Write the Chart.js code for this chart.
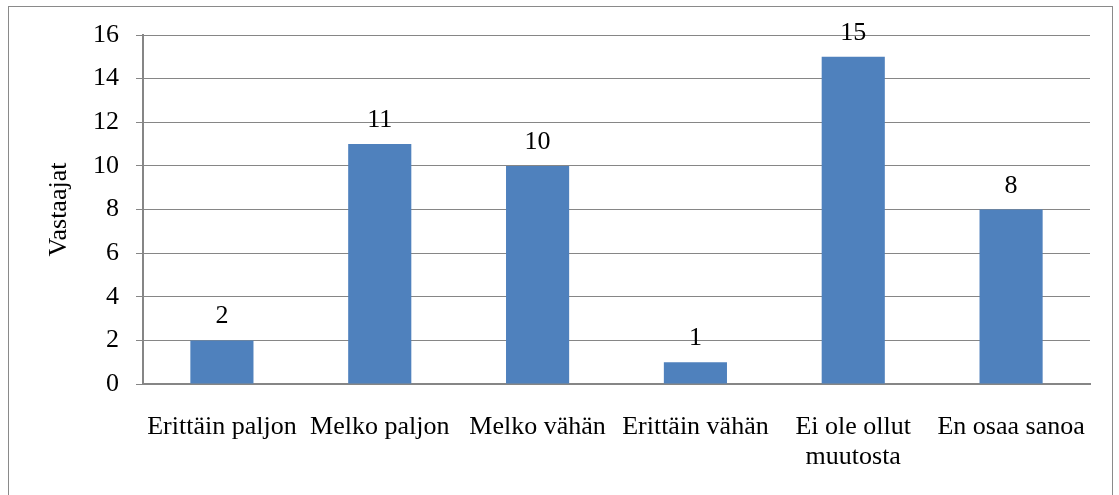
<!DOCTYPE html>
<html>
<head>
<meta charset="utf-8">
<script src="https://cdn.jsdelivr.net/npm/chart.js@4"></script>
<style>
  html, body { margin: 0; padding: 0; background: #ffffff; }
  #wrap { width: 1119px; height: 495px; position: relative; }
</style>
</head>
<body>
<div id="wrap"><canvas id="c" width="1119" height="495"></canvas></div>
<script>
// Survey answers: number of respondents per option
const categories = [
  'Erittäin paljon',
  'Melko paljon',
  'Melko vähän',
  'Erittäin vähän',
  ['Ei ole ollut', 'muutosta'],
  'En osaa sanoa'
];
const respondents = [2, 11, 10, 1, 15, 8];
const yTicks = [0, 2, 4, 6, 8, 10, 12, 14, 16];
const yTitle = 'Vastaajat';

const FONT = 'Liberation Serif';
const GRID = '#868686';
const BAR = '#4F81BD';

Chart.defaults.font.family = FONT;
Chart.defaults.font.size = 26;
Chart.defaults.color = '#000000';

// Gray frame around the whole chart
const framePlugin = {
  id: 'frame',
  beforeDraw(chart) {
    const ctx = chart.ctx;
    ctx.save();
    ctx.strokeStyle = '#8a8a8a';
    ctx.lineWidth = 1;
    ctx.strokeRect(8.5, 6.5, 1104, 600);
    ctx.restore();
  }
};

// Value printed above each bar
const valueLabels = {
  id: 'valueLabels',
  afterDatasetsDraw(chart) {
    const ctx = chart.ctx;
    const meta = chart.getDatasetMeta(0);
    ctx.save();
    ctx.font = '26px "Liberation Serif"';
    ctx.fillStyle = '#000000';
    ctx.textAlign = 'center';
    ctx.textBaseline = 'alphabetic';
    meta.data.forEach((bar, i) => {
      ctx.fillText(String(respondents[i]), bar.x, bar.y - 17);
    });
    ctx.restore();
  }
};

new Chart(document.getElementById('c'), {
  type: 'bar',
  data: {
    labels: categories,
    datasets: [{
      data: respondents,
      backgroundColor: BAR,
      borderWidth: 0,
      barPercentage: 0.4,
      categoryPercentage: 1.0
    }]
  },
  options: {
    responsive: false,
    animation: false,
    devicePixelRatio: 1,
    layout: { padding: { top: 35, right: 29, left: 0, bottom: 0 } },
    plugins: {
      legend: { display: false },
      tooltip: { enabled: false }
    },
    scales: {
      x: {
        grid: { display: false, drawTicks: false },
        border: { display: true, color: GRID, width: 2 },
        ticks: {
          color: '#000000',
          font: { family: FONT, size: 26, lineHeight: 1.154 },
          padding: 28,
          maxRotation: 0,
          minRotation: 0,
          autoSkip: false
        },
        afterFit(scale) { scale.height = 111; }
      },
      y: {
        min: 0,
        max: 16,
        afterBuildTicks(scale) { scale.ticks = yTicks.map(v => ({ value: v })); },
        grid: { color: GRID, lineWidth: 1, drawTicks: true, tickLength: 7 },
        border: { display: true, color: GRID, width: 2 },
        ticks: {
          color: '#000000',
          font: { family: FONT, size: 26 },
          padding: 17
        },
        title: {
          display: true,
          text: yTitle,
          color: '#000000',
          font: { family: FONT, size: 26 },
          padding: { top: 44, bottom: 0 }
        },
        afterFit(scale) { scale.width = 143; }
      }
    }
  },
  plugins: [framePlugin, valueLabels]
});
</script>
</body>
</html>
